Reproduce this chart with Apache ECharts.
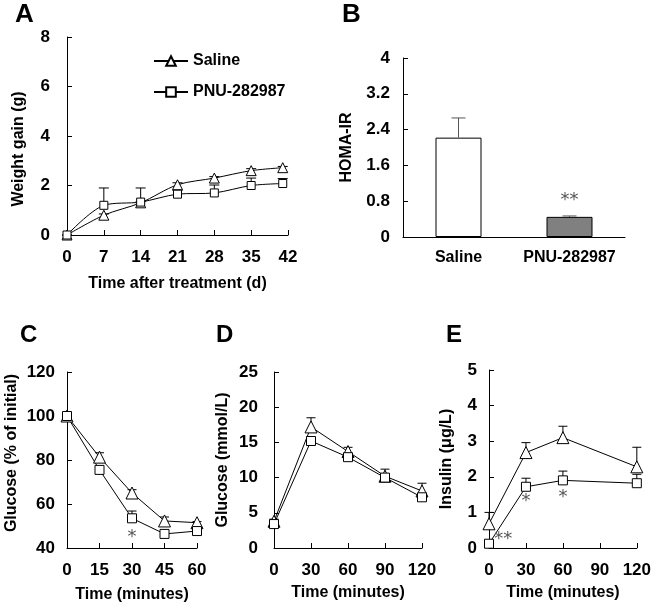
<!DOCTYPE html>
<html><head><meta charset="utf-8">
<script src="https://cdn.jsdelivr.net/npm/echarts@6/dist/echarts.min.js"></script>
<style>html,body{margin:0;padding:0;background:#fff}#c{width:654px;height:606px}</style>
</head><body><div id="c"></div>
<script>
// ---- Panel A: weight gain ----
const daysA = [0, 7, 14, 21, 28, 35, 41];
const salineA = [0, 0.8, 1.3, 2.03, 2.3, 2.6, 2.72];
const salineAErr = [0, 0.05, 0.05, 0.08, 0.06, 0.08, 0.05];
const pnuA = [0, 1.2, 1.33, 1.65, 1.7, 2.0, 2.08];
const pnuAErr = [0, 0.7, 0.57, 0.15, 0.32, 0.3, 0.2];
// ---- Panel B: HOMA-IR ----
const groupsB = ['Saline', 'PNU-282987'];
const homaB = [2.22, 0.45];
const homaBErr = [0.44, 0.02];
// ---- Panel C: ITT glucose % of initial ----
const timeC = [0, 15, 30, 45, 60];
const salineC = [100, 81.3, 65, 52.3, 51.5];
const salineCErr = [0, 2, 1.5, 1.8, 0.5];
const pnuC = [100, 75.5, 53.5, 46.4, 47.7];
const pnuCErr = [0, 0.5, 3.3, 0.5, 1.2];
// ---- Panel D: GTT glucose ----
const timeD = [0, 30, 60, 90, 120];
const salineD = [3.8, 17.2, 13.7, 10.2, 8.1];
const salineDErr = [0.3, 1.3, 0.6, 1.0, 1.1];
const pnuD = [3.4, 15.2, 12.9, 10.0, 7.2];
const pnuDErr = [0.5, 0.5, 0.4, 0.4, 0.4];
// ---- Panel E: insulin ----
const timeE = [0, 30, 60, 120];
const salineE = [0.68, 2.68, 3.1, 2.28];
const salineEErr = [0.32, 0.28, 0.32, 0.55];
const pnuE = [0.12, 1.72, 1.9, 1.82];
const pnuEErr = [0.02, 0.24, 0.26, 0.25];
// significance marks [x, y, text]
const starsB = [[1, 0.82, '**']];
const starsC = [[30, 45, '*']];
const starsE = [[11.5, 0.25, '**'], [30, 1.3, '*'], [60, 1.43, '*']];
const panelLetters = ['A', 'B', 'C', 'D', 'E'];

const FONT = '"Liberation Sans", Arial, sans-serif';
const lbl = {color: '#000', fontWeight: 'bold', fontSize: 17, fontFamily: FONT};
const nameStyle = {color: '#000', fontWeight: 'bold', fontSize: 16, fontFamily: FONT};
const axLine = {show: true, lineStyle: {color: '#000', width: 1}};
const axTick = {show: true, inside: true, length: 5, lineStyle: {color: '#000'}};

function valX(grid, min, max, interval, name, gap, extra) {
  return Object.assign({type: 'value', gridIndex: grid, min, max, interval, name, nameLocation: 'middle', nameGap: gap,
    nameTextStyle: nameStyle, axisLine: axLine, axisTick: axTick, splitLine: {show: false},
    axisLabel: Object.assign({margin: 14}, lbl)}, extra || {});
}
function valY(grid, min, max, interval, name, gap, lm, extra) {
  return Object.assign({type: 'value', gridIndex: grid, min, max, interval, name, nameLocation: 'middle', nameGap: gap,
    nameTextStyle: nameStyle, axisLine: axLine, axisTick: axTick, splitLine: {show: false},
    axisLabel: Object.assign({margin: lm}, lbl)}, extra || {});
}
function pairs(xs, ys) { return xs.map((x, i) => [x, ys[i]]); }
function errBars(ai, xs, ys, es, cap, color, z) {
  return {type: 'custom', xAxisIndex: ai, yAxisIndex: ai, z: z || 1, silent: true,
    data: xs.map((x, i) => [x, ys[i], ys[i] + es[i]]),
    renderItem: (p, api) => {
      const a = api.coord([api.value(0), api.value(1)]);
      const b = api.coord([api.value(0), api.value(2)]);
      const st = {stroke: color, lineWidth: 1};
      return {type: 'group', children: [
        {type: 'line', shape: {x1: a[0], y1: a[1], x2: b[0], y2: b[1]}, style: st},
        {type: 'line', shape: {x1: b[0] - cap / 2, y1: b[1], x2: b[0] + cap / 2, y2: b[1]}, style: st}]};
    }};
}
function stars(ai, arr) {
  return {type: 'custom', xAxisIndex: ai, yAxisIndex: ai, z: 5, silent: true,
    data: arr.map(d => [d[0], d[1]]),
    renderItem: (p, api) => {
      const a = api.coord([api.value(0), api.value(1)]);
      return {type: 'text', x: a[0], y: a[1], style: {text: arr[p.dataIndex][2], fill: '#555',
        font: 'normal 18px "DejaVu Sans", sans-serif', align: 'center', verticalAlign: 'middle'}};
    }};
}
function lineS(ai, name, xs, ys, sym, size, smooth) {
  return {type: 'line', name, xAxisIndex: ai, yAxisIndex: ai, data: pairs(xs, ys), symbol: sym, symbolSize: size,
    smooth: smooth || false, z: 3, showAllSymbol: true,
    lineStyle: {color: '#000', width: 1},
    itemStyle: {color: '#fff', borderColor: '#000', borderWidth: 1}};
}

const titlePos = [[15, 2, 26], [342, 2, 26], [20, 323, 24], [216, 323, 24], [446, 323, 24]];

const option = {
  animation: false,
  backgroundColor: '#fff',
  textStyle: {fontFamily: FONT},
  title: panelLetters.map((t, i) => ({text: t, left: titlePos[i][0], top: titlePos[i][1], padding: 0,
    textStyle: {fontSize: titlePos[i][2], fontWeight: 'bold', color: '#000', fontFamily: FONT}})),
  legend: {data: ['Saline', 'PNU-282987'], orient: 'vertical', left: 153, top: 53, padding: 0,
    itemWidth: 34, itemHeight: 12, itemGap: 15,
    textStyle: {fontSize: 16, fontWeight: 'bold', color: '#000', fontFamily: FONT}},
  grid: [
    {left: 67, top: 37, width: 221, height: 198},
    {left: 403, top: 58, width: 222, height: 179},
    {left: 67, top: 372, width: 130, height: 176},
    {left: 274, top: 372, width: 148, height: 176},
    {left: 489, top: 370, width: 148, height: 178}
  ],
  xAxis: [
    valX(0, 0, 42, 7, 'Time after treatment (d)', 41),
    {type: 'category', gridIndex: 1, data: groupsB, axisLine: axLine, axisTick: {show: false},
      axisLabel: Object.assign({margin: 13, interval: 0}, lbl, {fontSize: 16})},
    valX(2, 0, 60, 15, 'Time (minutes)', 39),
    valX(3, 0, 120, 30, 'Time (minutes)', 37),
    valX(4, 0, 120, 30, 'Time (minutes)', 37)
  ],
  yAxis: [
    valY(0, 0, 8, 2, 'Weight gain (g)', 40, 17, {nameTextStyle: Object.assign({padding: [0, 26, 0, 0]}, nameStyle)}),
    valY(1, 0, 4, 0.8, 'HOMA-IR', 48, 13, {axisLabel: Object.assign({margin: 13, formatter: v => String(Math.round(v * 10) / 10)}, lbl)}),
    valY(2, 40, 120, 20, 'Glucose (% of initial)', 47, 12, {nameTextStyle: Object.assign({padding: [0, 0, 0, 14]}, nameStyle)}),
    valY(3, 0, 25, 5, 'Glucose (mmol/L)', 43, 16),
    valY(4, 0, 5, 1, 'Insulin (μg/L)', 34, 12)
  ],
  series: [
    errBars(0, daysA, salineA, salineAErr, 10, '#000'),
    errBars(0, daysA, pnuA, pnuAErr, 10, '#000'),
    lineS(0, 'Saline', daysA, salineA, 'triangle', 10, 0.3),
    lineS(0, 'PNU-282987', daysA, pnuA, 'rect', 8, 0.3),

    {type: 'bar', xAxisIndex: 1, yAxisIndex: 1, barWidth: 46, z: 2,
      data: homaB.map((v, i) => ({value: v, itemStyle: {color: i === 0 ? '#fff' : '#808080', borderColor: '#000', borderWidth: 1}}))},
    errBars(1, [0, 1], homaB, homaBErr, 14, '#555', 3),
    stars(1, starsB),

    errBars(2, timeC, salineC, salineCErr, 9, '#000'),
    errBars(2, timeC, pnuC, pnuCErr, 9, '#000'),
    lineS(2, 'Saline', timeC, salineC, 'triangle', 12),
    lineS(2, 'PNU-282987', timeC, pnuC, 'rect', 9),
    stars(2, starsC),

    errBars(3, timeD, salineD, salineDErr, 9, '#000'),
    errBars(3, timeD, pnuD, pnuDErr, 9, '#000'),
    lineS(3, 'Saline', timeD, salineD, 'triangle', 12),
    lineS(3, 'PNU-282987', timeD, pnuD, 'rect', 9),

    errBars(4, timeE, salineE, salineEErr, 9, '#000'),
    errBars(4, timeE, pnuE, pnuEErr, 9, '#000'),
    lineS(4, 'Saline', timeE, salineE, 'triangle', 12),
    lineS(4, 'PNU-282987', timeE, pnuE, 'rect', 9),
    stars(4, starsE)
  ]
};
const chart = echarts.init(document.getElementById('c'), null, {renderer: 'canvas'});
chart.setOption(option);
</script></body></html>
